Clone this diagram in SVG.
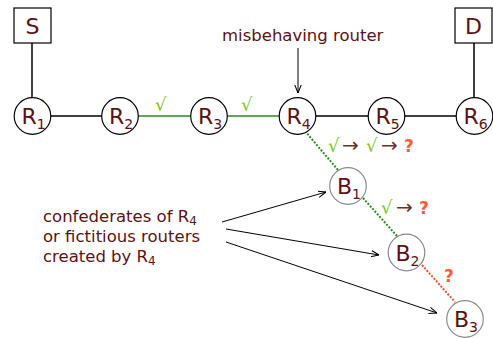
<svg xmlns="http://www.w3.org/2000/svg" width="493" height="339" viewBox="0 0 493 339">
<style>
text{font-family:"DejaVu Sans","Liberation Sans",sans-serif;fill:#5a1212}
.r{fill:#fff;stroke:#000;stroke-width:1.2}
.b{fill:#fff;stroke:#8a8a8a;stroke-width:1.2}
.big{font-size:22px}
.sub{font-size:14px}
.lbl{font-size:16.5px}
.lsub{font-size:12px}
.chk{fill:#7cc51c;font-size:18px}
.q{fill:#ff5a36;font-size:17px;font-weight:bold}
.ar{fill:#6a3030;font-size:20px}
</style>
<defs>
<marker id="ah" viewBox="0 0 10 10" refX="10" refY="5" markerWidth="8" markerHeight="8" markerUnits="userSpaceOnUse" orient="auto"><path d="M0,1 L10,5 L0,9" fill="none" stroke="#000" stroke-width="1.3"/></marker>
</defs>
<g id="connectors">
<line x1="32" y1="43" x2="32" y2="98" stroke="#000" stroke-width="1.5"/>
<line x1="474" y1="43" x2="474" y2="98" stroke="#000" stroke-width="1.5"/>
<line x1="51" y1="116" x2="102" y2="116" stroke="#000" stroke-width="1.5"/>
<line x1="138" y1="116" x2="191" y2="116" stroke="#2a8a22" stroke-width="1.5"/>
<line x1="227" y1="116" x2="279" y2="116" stroke="#2a8a22" stroke-width="1.5"/>
<line x1="316" y1="116" x2="368" y2="116" stroke="#000" stroke-width="1.5"/>
<line x1="405" y1="116" x2="456" y2="116" stroke="#000" stroke-width="1.5"/>
<line x1="305" y1="131" x2="338" y2="170" stroke="#2a8a22" stroke-width="2" stroke-dasharray="2,1.5"/>
<line x1="363" y1="198" x2="397" y2="236" stroke="#2a8a22" stroke-width="2" stroke-dasharray="2,1.5"/>
<line x1="422" y1="265" x2="455" y2="302" stroke="#ff4a26" stroke-width="2" stroke-dasharray="2,1.5"/>
<line x1="298" y1="48" x2="298" y2="93" stroke="#000" stroke-width="1" marker-end="url(#ah)"/>
<line x1="222" y1="222" x2="326" y2="192" stroke="#000" stroke-width="1" marker-end="url(#ah)"/>
<line x1="226" y1="229" x2="379" y2="255" stroke="#000" stroke-width="1" marker-end="url(#ah)"/>
<line x1="226" y1="242" x2="437" y2="313" stroke="#000" stroke-width="1" marker-end="url(#ah)"/>
</g>
<g id="S"><rect x="14" y="8" width="37" height="35" fill="#fff" stroke="#000" stroke-width="1.2"/><text class="big" x="32.5" y="33.5" text-anchor="middle">S</text></g>
<g id="D"><rect x="455" y="8" width="37" height="35" fill="#fff" stroke="#000" stroke-width="1.2"/><text class="big" x="473.5" y="33.5" text-anchor="middle">D</text></g>
<g id="R1"><circle class="r" cx="32.5" cy="116" r="18.3"/><text x="21.5" y="124"><tspan class="big">R</tspan><tspan class="sub" dy="5">1</tspan></text></g>
<g id="R2"><circle class="r" cx="120" cy="116" r="18.3"/><text x="109" y="124"><tspan class="big">R</tspan><tspan class="sub" dy="5">2</tspan></text></g>
<g id="R3"><circle class="r" cx="209" cy="116" r="18.3"/><text x="198" y="124"><tspan class="big">R</tspan><tspan class="sub" dy="5">3</tspan></text></g>
<g id="R4"><circle class="r" cx="297.5" cy="116" r="18.3"/><text x="286.5" y="124"><tspan class="big">R</tspan><tspan class="sub" dy="5">4</tspan></text></g>
<g id="R5"><circle class="r" cx="386.5" cy="116" r="18.3"/><text x="375.5" y="124"><tspan class="big">R</tspan><tspan class="sub" dy="5">5</tspan></text></g>
<g id="R6"><circle class="r" cx="474.5" cy="116" r="18.3"/><text x="463.5" y="124"><tspan class="big">R</tspan><tspan class="sub" dy="5">6</tspan></text></g>
<g id="B1"><circle class="b" cx="348" cy="186" r="18.3"/><text x="337" y="194"><tspan class="big">B</tspan><tspan class="sub" dy="5">1</tspan></text></g>
<g id="B2"><circle class="b" cx="406.5" cy="252.5" r="18.3"/><text x="395.5" y="260.5"><tspan class="big">B</tspan><tspan class="sub" dy="5">2</tspan></text></g>
<g id="B3"><circle class="b" cx="465" cy="319" r="18.3"/><text x="454" y="327"><tspan class="big">B</tspan><tspan class="sub" dy="5">3</tspan></text></g>
<g id="labels">
<text class="lbl" x="222" y="41">misbehaving router</text>
<text class="chk" x="155" y="111">√</text>
<text class="chk" x="241" y="111">√</text>
<text class="chk" x="328" y="152">√</text>
<text class="ar" x="342" y="152">→</text>
<text class="chk" x="366" y="152">√</text>
<text class="ar" x="381" y="152">→</text>
<text class="q" x="404" y="152">?</text>
<text class="chk" x="381" y="214">√</text>
<text class="ar" x="396" y="214">→</text>
<text class="q" x="419" y="214">?</text>
<text class="q" x="444" y="282">?</text>
<text class="lbl" x="43" y="222">confederates of R<tspan class="lsub" dy="3">4</tspan></text>
<text class="lbl" x="43" y="242">or fictitious routers</text>
<text class="lbl" x="43" y="262">created by R<tspan class="lsub" dy="3">4</tspan></text>
</g>
</svg>
